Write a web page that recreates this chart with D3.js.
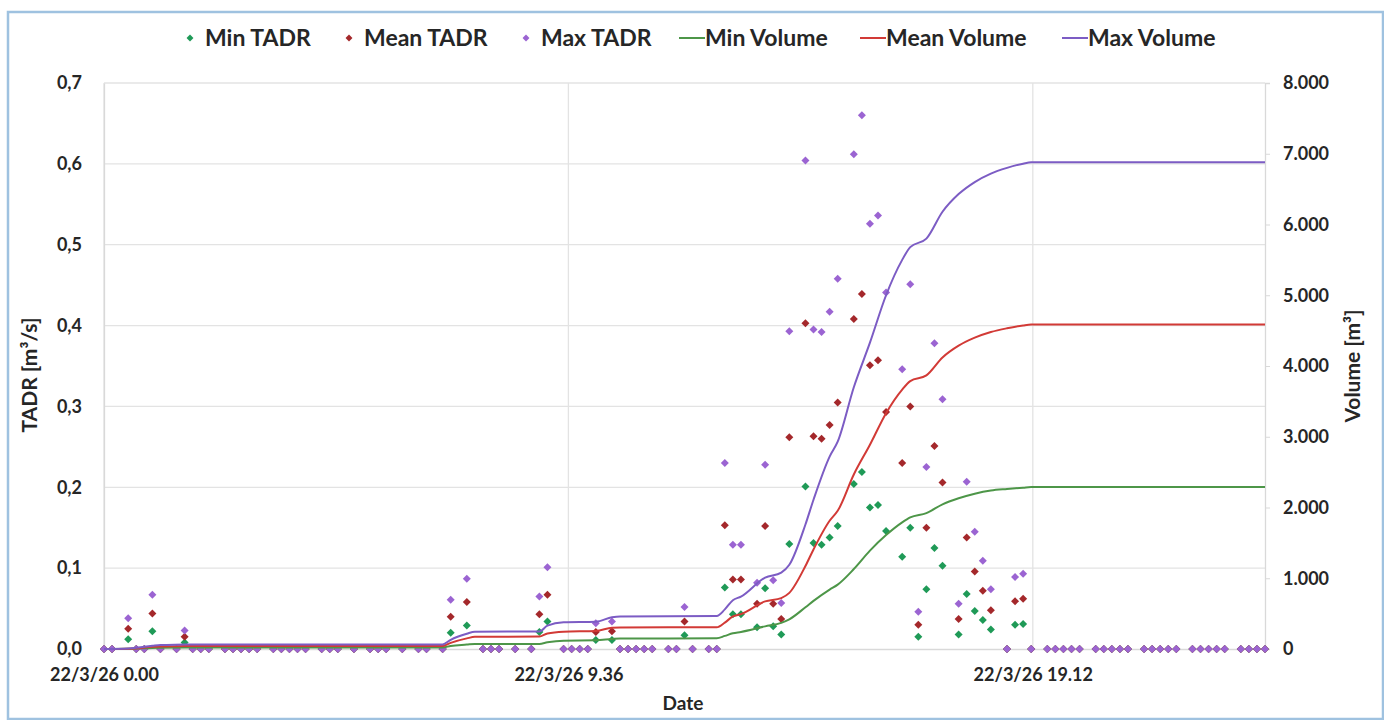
<!DOCTYPE html>
<html>
<head>
<meta charset="utf-8">
<script src="https://cdn.jsdelivr.net/npm/d3@7"></script>
<style>
  body { margin: 0; background: #fff; }
  text { font-family: Lato, "Open Sans", sans-serif; font-weight: bold; fill: #262626; }
</style>
</head>
<body>
<svg id="chart" width="1384" height="720"></svg>
<script>
// TADR samples (time of day on 22/3/26, "24:00" = midnight of the next day)
var tadrTimes = [
  "0:00", "0:10", "0:30", "0:40", "0:50", "1:00", "1:10", "1:30", "1:40", "1:50", "2:00", "2:10",
  "2:30", "2:40", "2:50", "3:00", "3:10", "3:30", "3:40", "3:50", "4:00", "4:10",
  "4:30", "4:40", "4:50", "5:10", "5:30", "5:40", "5:50", "6:10", "6:30", "6:40", "7:00",
  "7:10", "7:30", "7:50", "8:00", "8:10", "8:30", "8:50", "9:00", "9:10",
  "9:30", "9:40", "9:50", "10:00", "10:10", "10:30", "10:40", "10:50", "11:00", "11:10", "11:20",
  "11:40", "11:50", "12:00", "12:10", "12:30", "12:40", "12:50", "13:00", "13:10",
  "13:30", "13:40", "13:50", "14:00", "14:10", "14:30", "14:40", "14:50", "15:00", "15:10",
  "15:30", "15:40", "15:50", "16:00", "16:10", "16:30", "16:40", "16:50", "17:00", "17:10", "17:20",
  "17:40", "17:50", "18:00", "18:10", "18:20", "18:40", "18:50", "19:00", "19:10",
  "19:30", "19:40", "19:50", "20:00", "20:10", "20:30", "20:40", "20:50", "21:00", "21:10",
  "21:30", "21:40", "21:50", "22:00", "22:10", "22:30", "22:40", "22:50", "23:00", "23:10",
  "23:30", "23:40", "23:50", "24:00"
];

var minTadr = [
  0, 0, 0.012, 0, 0, 0.022, 0, 0, 0.008, 0, 0, 0,
  0, 0, 0, 0, 0, 0, 0, 0, 0, 0,
  0, 0, 0, 0, 0, 0, 0, 0, 0, 0, 0,
  0.020, 0.029, 0, 0, 0, 0, 0, 0.021, 0.034,
  0, 0, 0, 0, 0.011, 0.011, 0, 0, 0, 0, 0,
  0, 0, 0.017, 0, 0, 0, 0.076, 0.043, 0.043,
  0.027, 0.075, 0.028, 0.018, 0.130, 0.201, 0.131, 0.129, 0.138, 0.152,
  0.204, 0.219, 0.175, 0.178, 0.146, 0.114, 0.150, 0.015, 0.074, 0.125, 0.103,
  0.018, 0.068, 0.047, 0.036, 0.024, 0, 0.030, 0.031, 0,
  0, 0, 0, 0, 0, 0, 0, 0, 0, 0,
  0, 0, 0, 0, 0, 0, 0, 0, 0, 0,
  0, 0, 0, 0
];

var meanTadr = [
  0, 0, 0.025, 0, 0, 0.044, 0, 0, 0.015, 0, 0, 0,
  0, 0, 0, 0, 0, 0, 0, 0, 0, 0,
  0, 0, 0, 0, 0, 0, 0, 0, 0, 0, 0,
  0.040, 0.058, 0, 0, 0, 0, 0, 0.043, 0.067,
  0, 0, 0, 0, 0.021, 0.022, 0, 0, 0, 0, 0,
  0, 0, 0.034, 0, 0, 0, 0.153, 0.086, 0.086,
  0.056, 0.152, 0.056, 0.037, 0.262, 0.403, 0.263, 0.260, 0.277, 0.305,
  0.408, 0.439, 0.351, 0.357, 0.293, 0.230, 0.300, 0.030, 0.150, 0.251, 0.206,
  0.037, 0.138, 0.096, 0.072, 0.048, 0, 0.059, 0.062, 0,
  0, 0, 0, 0, 0, 0, 0, 0, 0, 0,
  0, 0, 0, 0, 0, 0, 0, 0, 0, 0,
  0, 0, 0, 0
];

var maxTadr = [
  0, 0, 0.038, 0, 0, 0.067, 0, 0, 0.023, 0, 0, 0,
  0, 0, 0, 0, 0, 0, 0, 0, 0, 0,
  0, 0, 0, 0, 0, 0, 0, 0, 0, 0, 0,
  0.061, 0.087, 0, 0, 0, 0, 0, 0.065, 0.101,
  0, 0, 0, 0, 0.032, 0.034, 0, 0, 0, 0, 0,
  0, 0, 0.052, 0, 0, 0, 0.230, 0.129, 0.129,
  0.082, 0.228, 0.085, 0.057, 0.393, 0.604, 0.395, 0.392, 0.417, 0.458,
  0.612, 0.660, 0.526, 0.536, 0.441, 0.346, 0.451, 0.046, 0.225, 0.378, 0.309,
  0.056, 0.207, 0.145, 0.109, 0.074, 0, 0.089, 0.093, 0,
  0, 0, 0, 0, 0, 0, 0, 0, 0, 0,
  0, 0, 0, 0, 0, 0, 0, 0, 0, 0,
  0, 0, 0, 0
];

// cumulative volumes [m3]
var volTimes = [
  "0:00", "0:30", "1:00", "1:10", "1:40", "1:50", "7:00", "7:10", "7:30", "7:40",
  "9:00", "9:10", "9:30", "10:10", "10:30", "10:40", "12:40", "12:50", "13:00", "13:10",
  "13:40", "14:00", "14:10", "14:30", "14:40", "15:00", "15:10", "15:30", "15:50", "16:10",
  "16:30", "16:40", "17:00", "17:20", "17:40", "18:00", "18:20", "18:40", "19:00", "19:10", "24:00"
];
var minVolume = [
  0, 3, 15, 18, 21, 22, 22, 43, 62, 71,
  72, 95, 118, 122, 141, 148, 152, 185, 222, 240,
  320, 370, 420, 590, 680, 840, 910, 1130, 1390, 1610,
  1790, 1860, 1920, 2045, 2130, 2195, 2240, 2262, 2280, 2290, 2290
];
var meanVolume = [
  0, 5, 30, 37, 41, 43, 43, 87, 150, 172,
  175, 220, 245, 255, 300, 305, 308, 373, 460, 493,
  673, 720, 793, 1173, 1407, 1813, 1953, 2467, 2887, 3333,
  3667, 3787, 3867, 4120, 4287, 4400, 4480, 4533, 4573, 4585, 4585
];
var maxVolume = [
  0, 8, 45, 55, 62, 65, 65, 130, 215, 245,
  248, 330, 377, 385, 448, 460, 466, 560, 690, 740,
  1010, 1080, 1190, 1760, 2110, 2720, 2930, 3700, 4330, 5000,
  5500, 5680, 5800, 6180, 6430, 6600, 6720, 6800, 6860, 6880, 6880
];

var tadrTicks = [0, 0.1, 0.2, 0.3, 0.4, 0.5, 0.6, 0.7];
var volumeTicks = [0, 1000, 2000, 3000, 4000, 5000, 6000, 7000, 8000];
var dateTicks = ["0:00", "9:36", "19:12"];

var pointSeries = [
  { name: "Min TADR", values: minTadr, color: "#1f9a57" },
  { name: "Mean TADR", values: meanTadr, color: "#a4282b" },
  { name: "Max TADR", values: maxTadr, color: "#9b64d2" }
];
var lineSeries = [
  { name: "Min Volume", values: minVolume, color: "#4d9648" },
  { name: "Mean Volume", values: meanVolume, color: "#d23a36" },
  { name: "Max Volume", values: maxVolume, color: "#7c5cc4" }
];

var day0 = new Date(2022, 2, 26);
function parseTime(s) {
  var p = s.split(":");
  return new Date(day0.getTime() + (+p[0]) * 3600000 + (+p[1]) * 60000);
}

var svg = d3.select("#chart");
var plotLeft = 104, plotRight = 1265, plotTop = 83, plotBottom = 649;

var x = d3.scaleTime()
  .domain([parseTime("0:00"), parseTime("24:00")])
  .range([plotLeft, plotRight]);
var y = d3.scaleLinear().domain([0, 0.7]).range([plotBottom, plotTop]);
var y2 = d3.scaleLinear().domain([0, 8000]).range([plotBottom, plotTop]);

// frame
svg.append("rect")
  .attr("x", 8).attr("y", 12)
  .attr("width", 1375).attr("height", 707)
  .attr("fill", "none")
  .attr("stroke", "#9fc2e0")
  .attr("stroke-width", 2.5);

// gridlines
svg.append("g")
  .selectAll("line")
  .data(tadrTicks.slice(1))
  .enter().append("line")
  .attr("x1", plotLeft).attr("x2", plotRight)
  .attr("y1", function (d) { return y(d); })
  .attr("y2", function (d) { return y(d); })
  .attr("stroke", "#e3e3e3")
  .attr("stroke-width", 1.3);

svg.append("g")
  .selectAll("line")
  .data(dateTicks)
  .enter().append("line")
  .attr("x1", function (d) { return x(parseTime(d)); })
  .attr("x2", function (d) { return x(parseTime(d)); })
  .attr("y1", plotTop).attr("y2", plotBottom)
  .attr("stroke", "#e3e3e3")
  .attr("stroke-width", 1.3);

// axes
var fmtTadr = function (d) { return d3.format(".1f")(d).replace(".", ","); };
var fmtVol = function (d) { return d3.format(",")(d).replace(/,/g, "."); };
var fmtDate = d3.timeFormat("%y/%-m/%-d %-H.%M");

var axisL = svg.append("g")
  .attr("transform", "translate(" + plotLeft + ",0)")
  .call(d3.axisLeft(y).tickValues(tadrTicks).tickFormat(fmtTadr).tickSize(0).tickPadding(22));

var axisR = svg.append("g")
  .attr("transform", "translate(" + plotRight + ",0)")
  .call(d3.axisRight(y2).tickValues(volumeTicks).tickFormat(fmtVol).tickSize(5).tickPadding(13));

var axisB = svg.append("g")
  .attr("transform", "translate(0," + plotBottom + ")")
  .call(d3.axisBottom(x).tickValues(dateTicks.map(parseTime)).tickFormat(fmtDate).tickSize(0).tickPadding(19));

[axisL, axisR, axisB].forEach(function (a) {
  a.select(".domain").attr("stroke", "#d9d9d9").attr("stroke-width", 1.3);
  a.selectAll(".tick line").attr("stroke", "#d9d9d9");
  a.selectAll(".tick text")
    .attr("fill", "#262626")
    .style("font-family", "Lato, 'Open Sans', sans-serif")
    .style("font-weight", "bold")
    .style("font-size", "18px");
});

// axis titles
svg.append("text")
  .attr("transform", "translate(37,375) rotate(-90)")
  .attr("text-anchor", "middle")
  .style("font-size", "21px")
  .text("TADR [m³/s]");

svg.append("text")
  .attr("transform", "translate(1360,366) rotate(-90)")
  .attr("text-anchor", "middle")
  .style("font-size", "21px")
  .text("Volume [m³]");

svg.append("text")
  .attr("x", 683).attr("y", 710)
  .attr("text-anchor", "middle")
  .style("font-size", "19px")
  .text("Date");

// diamond marker
var diamond = {
  draw: function (ctx, size) {
    var r = Math.sqrt(size / 2);
    ctx.moveTo(0, -r);
    ctx.lineTo(r, 0);
    ctx.lineTo(0, r);
    ctx.lineTo(-r, 0);
    ctx.closePath();
  }
};
var marker = d3.symbol().type(diamond).size(32);

// TADR points
pointSeries.forEach(function (s) {
  svg.append("g")
    .selectAll("path")
    .data(tadrTimes)
    .enter().append("path")
    .attr("d", marker)
    .attr("fill", s.color)
    .attr("transform", function (d, i) {
      return "translate(" + x(parseTime(d)) + "," + y(s.values[i]) + ")";
    });
});

// volume lines
var line = d3.line()
  .x(function (d) { return x(parseTime(d.t)); })
  .y(function (d) { return y2(d.v); })
  .curve(d3.curveMonotoneX);

lineSeries.forEach(function (s) {
  svg.append("path")
    .datum(volTimes.map(function (t, i) { return { t: t, v: s.values[i] }; }))
    .attr("d", line)
    .attr("fill", "none")
    .attr("stroke", s.color)
    .attr("stroke-width", 2);
});

// legend
var legendItems = [
  { label: "Min TADR", color: pointSeries[0].color, kind: "point", x: 190 },
  { label: "Mean TADR", color: pointSeries[1].color, kind: "point", x: 349 },
  { label: "Max TADR", color: pointSeries[2].color, kind: "point", x: 526 },
  { label: "Min Volume", color: lineSeries[0].color, kind: "line", x: 679 },
  { label: "Mean Volume", color: lineSeries[1].color, kind: "line", x: 860 },
  { label: "Max Volume", color: lineSeries[2].color, kind: "line", x: 1062 }
];

var legend = svg.append("g").attr("transform", "translate(0,38)");
legendItems.forEach(function (d) {
  var g = legend.append("g").attr("transform", "translate(" + d.x + ",0)");
  if (d.kind === "point") {
    g.append("path").attr("d", d3.symbol().type(diamond).size(24)).attr("fill", d.color);
    g.append("text").attr("x", 15).attr("dy", "0.35em").style("font-size", "23px").text(d.label);
  } else {
    g.append("line").attr("x1", 0).attr("x2", 26).attr("stroke", d.color).attr("stroke-width", 2);
    g.append("text").attr("x", 26).attr("dy", "0.35em").style("font-size", "23px").text(d.label);
  }
});
</script>
</body>
</html>
